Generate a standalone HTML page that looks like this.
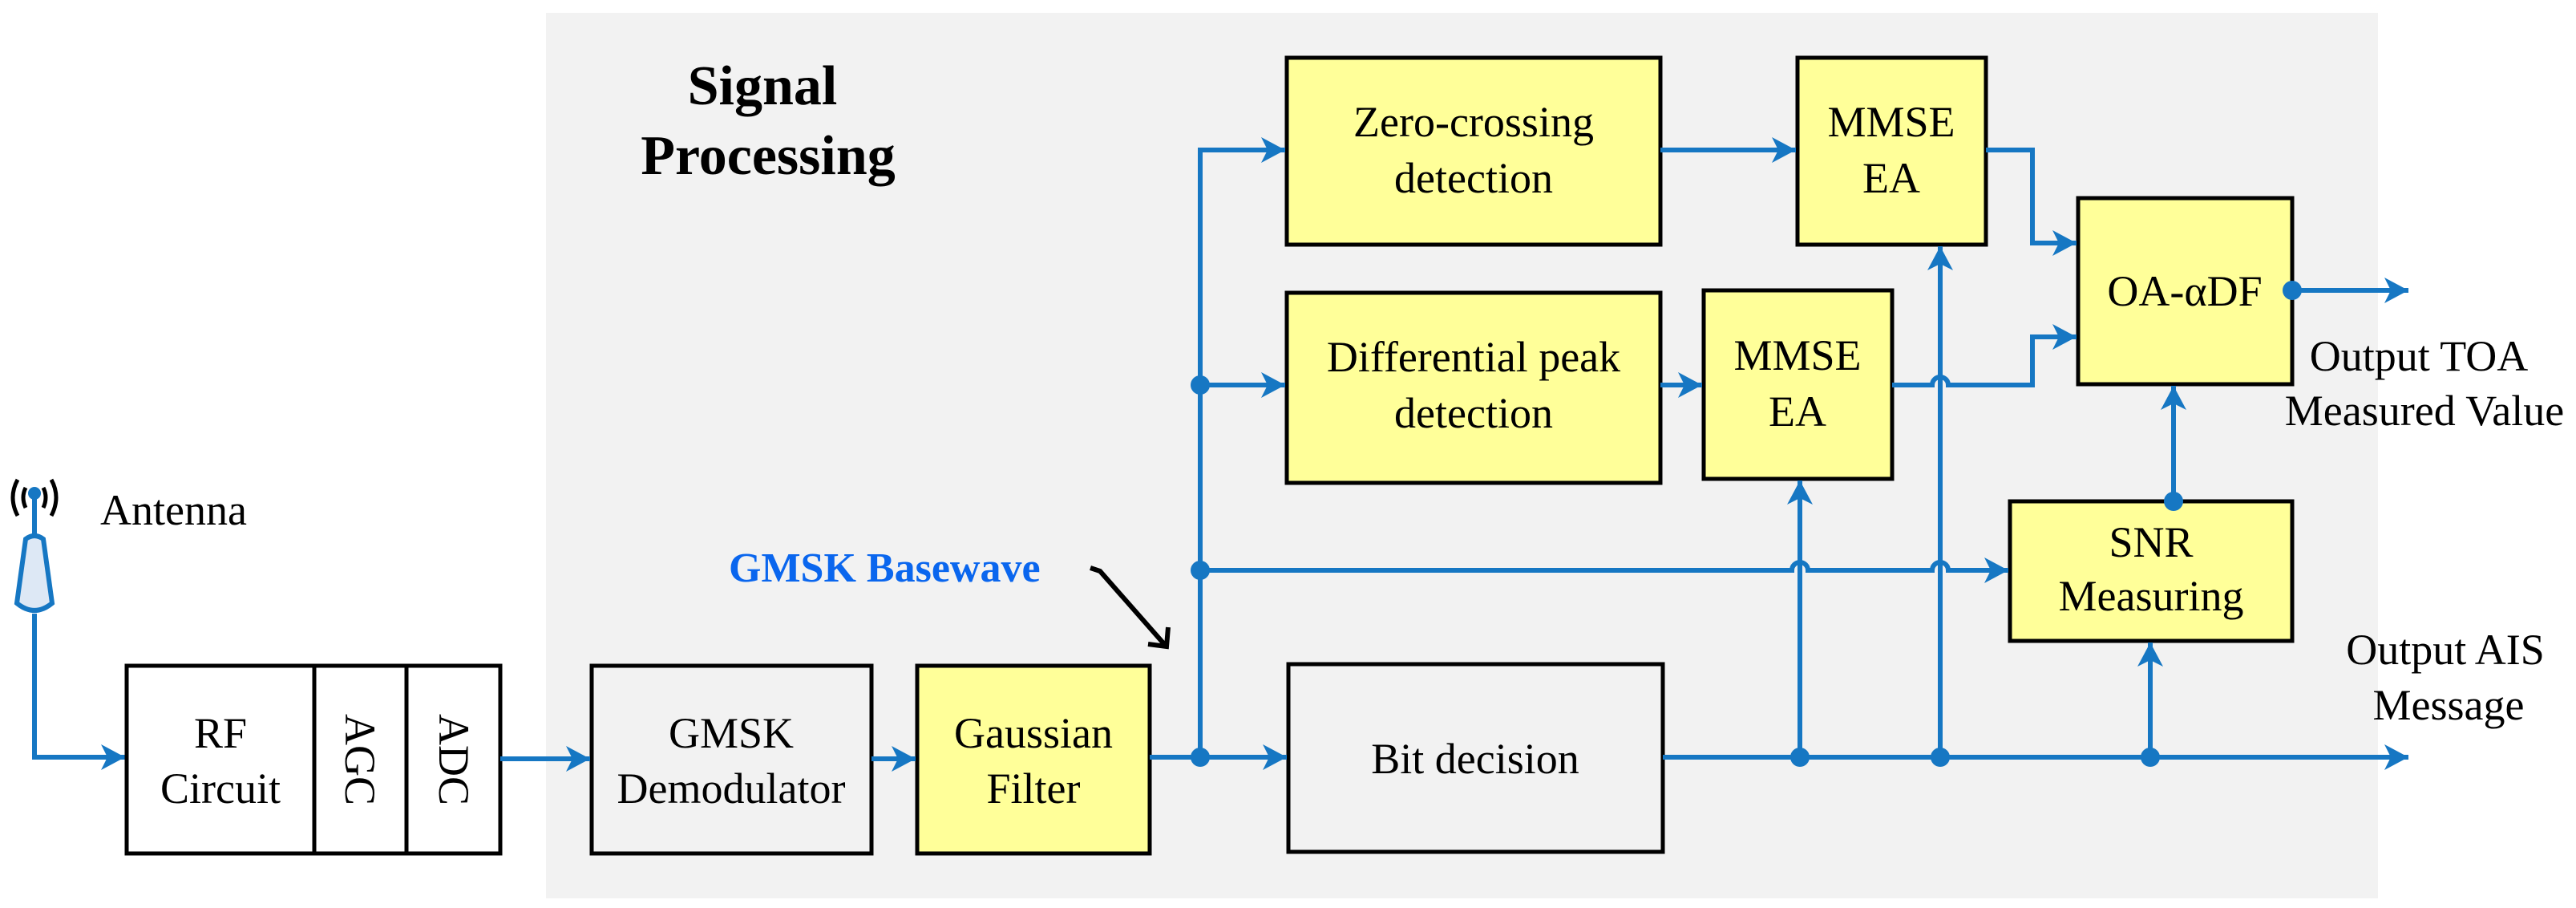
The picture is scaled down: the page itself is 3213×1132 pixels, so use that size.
<!DOCTYPE html>
<html><head><meta charset="utf-8"><style>
html,body{margin:0;padding:0;background:#fff}
svg{display:block}
text{font-family:"Liberation Serif","Times New Roman","Noto Serif CJK SC",serif;font-size:54px;fill:#000}
text.h{font-weight:bold;font-size:70px}
text.b{font-weight:bold;font-size:52px;fill:#0a66ee}
</style></head><body>
<svg width="3213" height="1132" viewBox="0 0 3213 1132" xmlns="http://www.w3.org/2000/svg">
<defs>
<marker id="a" markerUnits="userSpaceOnUse" markerWidth="34" markerHeight="34" refX="30" refY="16" orient="auto">
<path d="M0,0 L30,16 L0,32 L8,16 Z" fill="#1677c3"/>
</marker>
</defs>
<rect x="681" y="16" width="2285" height="1104" fill="#f2f2f2"/>

<text class="h" x="951" y="130" text-anchor="middle">Signal</text>
<text class="h" x="958" y="217" text-anchor="middle">Processing</text>

<!-- antenna -->
<g stroke="#000" stroke-width="5" fill="none">
<path d="M22,598 Q10,620 22,643"/><path d="M64,598 Q76,620 64,643"/>
<path d="M32,608 Q26,620 32,633"/><path d="M54,608 Q60,620 54,633"/>
</g>
<g stroke="#1677c3" fill="none" stroke-width="6">
<line x1="43" y1="615" x2="43" y2="672"/>
<path d="M43,765 L43,944 L156,944" marker-end="url(#a)"/>
</g>
<circle cx="43" cy="615" r="8" fill="#1677c3"/>
<path d="M32,672 Q43,664 54,672 L65,752 Q43,770 21,752 Z" fill="#dde8f5" stroke="#1677c3" stroke-width="6"/>
<text x="125" y="654">Antenna</text>

<!-- left boxes -->
<g stroke="#000" stroke-width="5">
<rect x="158" y="830" width="466" height="234" fill="#fff"/>
<line x1="392" y1="830" x2="392" y2="1064"/>
<line x1="507" y1="830" x2="507" y2="1064"/>
<rect x="738" y="830" width="349" height="234" fill="#f2f2f2"/>
<rect x="1144" y="830" width="290" height="234" fill="#ffff99"/>
</g>
<text x="275" y="932" text-anchor="middle">RF</text>
<text x="275" y="1001" text-anchor="middle">Circuit</text>
<text transform="translate(449,947) rotate(90)" text-anchor="middle" dy="18">AGC</text>
<text transform="translate(566,947) rotate(90)" text-anchor="middle" dy="18">ADC</text>
<text x="912" y="932" text-anchor="middle">GMSK</text>
<text x="912" y="1001" text-anchor="middle">Demodulator</text>
<text x="1289" y="932" text-anchor="middle">Gaussian</text>
<text x="1289" y="1001" text-anchor="middle">Filter</text>

<text class="b" x="909" y="725">GMSK Basewave</text>
<g stroke="#000" stroke-width="6" fill="none">
<path d="M1360,708 L1372,712 L1453,804"/>
<path d="M1457,782 L1455,806 L1432,803"/>
</g>

<!-- right boxes -->
<g stroke="#000" stroke-width="5" fill="#ffff99">
<rect x="1605" y="72" width="466" height="233"/>
<rect x="1605" y="365" width="466" height="237"/>
<rect x="2242" y="72" width="235" height="233"/>
<rect x="2125" y="362" width="235" height="235"/>
<rect x="2592" y="247" width="267" height="232"/>
<rect x="2507" y="625" width="352" height="174"/>
<rect x="1607" y="828" width="467" height="234" fill="#f2f2f2"/>
</g>
<text x="1838" y="170" text-anchor="middle">Zero-crossing</text>
<text x="1838" y="240" text-anchor="middle">detection</text>
<text x="1838" y="463" text-anchor="middle">Differential peak</text>
<text x="1838" y="533" text-anchor="middle">detection</text>
<text x="2359" y="170" text-anchor="middle">MMSE</text>
<text x="2359" y="240" text-anchor="middle">EA</text>
<text x="2242" y="461" text-anchor="middle">MMSE</text>
<text x="2242" y="531" text-anchor="middle">EA</text>
<text x="2725" y="381" text-anchor="middle">OA-αDF</text>
<text x="2683" y="694" text-anchor="middle">SNR</text>
<text x="2683" y="761" text-anchor="middle">Measuring</text>
<text x="1840" y="964" text-anchor="middle">Bit decision</text>
<text x="3017" y="462" text-anchor="middle">Output TOA</text>
<text x="3024" y="530" text-anchor="middle">Measured Value</text>
<text x="3050" y="828" text-anchor="middle">Output AIS</text>
<text x="3054" y="897" text-anchor="middle">Message</text>

<!-- connectors -->
<g stroke="#1677c3" stroke-width="6" fill="none">
<path d="M624,946 L736,946" marker-end="url(#a)"/>
<path d="M1087,946 L1142,946" marker-end="url(#a)"/>
<path d="M1434,944 L1605,944" marker-end="url(#a)"/>
<path d="M1497,944 L1497,187 L1603,187" marker-end="url(#a)"/>
<path d="M1497,480 L1603,480" marker-end="url(#a)"/>
<path d="M1497,711 L2235,711 A10,10 0 0 1 2255,711 L2410,711 A10,10 0 0 1 2430,711 L2505,711" marker-end="url(#a)"/>
<path d="M2071,187 L2240,187" marker-end="url(#a)"/>
<path d="M2071,480 L2123,480" marker-end="url(#a)"/>
<path d="M2477,187 L2535,187 L2535,303 L2590,303" marker-end="url(#a)"/>
<path d="M2360,480 L2410,480 A10,10 0 0 1 2430,480 L2535,480 L2535,420 L2590,420" marker-end="url(#a)"/>
<path d="M2074,944 L3004,944" marker-end="url(#a)"/>
<path d="M2245,944 L2245,599" marker-end="url(#a)"/>
<path d="M2420,944 L2420,307" marker-end="url(#a)"/>
<path d="M2682,944 L2682,801" marker-end="url(#a)"/>
<path d="M2711,625 L2711,481" marker-end="url(#a)"/>
<path d="M2859,362 L3004,362" marker-end="url(#a)"/>
</g>
<g fill="#1677c3">
<circle cx="1497" cy="480" r="12"/>
<circle cx="1497" cy="711" r="12"/>
<circle cx="1497" cy="944" r="12"/>
<circle cx="2245" cy="944" r="12"/>
<circle cx="2420" cy="944" r="12"/>
<circle cx="2682" cy="944" r="12"/>
<circle cx="2711" cy="625" r="12"/>
<circle cx="2859" cy="362" r="12"/>
</g>
</svg>
</body></html>
